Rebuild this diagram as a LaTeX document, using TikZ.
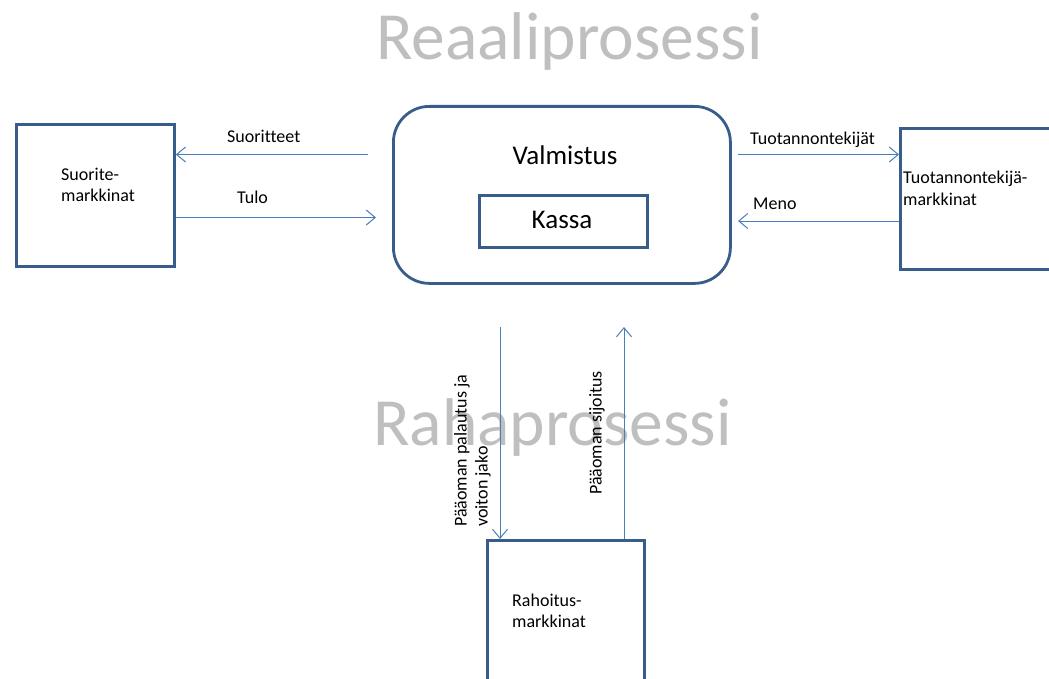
\documentclass[tikz,border=0pt]{standalone}
\usepackage{fontspec}
\setmainfont{Carlito}[Ligatures=NoCommon]
\usetikzlibrary{arrows.meta}
\definecolor{boxc}{HTML}{385D8A}
\definecolor{arrc}{HTML}{4A7EBB}
\definecolor{titc}{HTML}{BFBFBF}
\tikzset{
  market/.style={draw=boxc, line width=2.8pt, rectangle, inner sep=0pt, anchor=north west},
  flow/.style={draw=arrc, line width=1pt, -{Straight Barb[length=9pt,width=15pt,line width=1pt]}},
  lbl/.style={font=\fontsize{18}{21}\selectfont, inner sep=0pt, align=left},
  big/.style={font=\fontsize{67.5}{70}\selectfont, text=titc, inner sep=0pt, anchor=base west}
}
\begin{document}
\begin{tikzpicture}[x=1pt,y=-1pt]
\useasboundingbox (0,0) rectangle (1049,679);
\clip (0,0) rectangle (1049,679);
% titles
\node[big] (t1) at (376,60) {Reaaliprosessi};
\node[big] (t2) at (373,445) {Rahaprosessi};
% boxes
\node[market, minimum width=158pt, minimum height=142pt] (suor) at (15,123) {};
\node[market, minimum width=170pt, minimum height=141pt] (tuot) at (899,127) {};
\node[market, minimum width=157pt, minimum height=160pt] (raho) at (486,539) {};
\node[draw=boxc, line width=2.8pt, rounded corners=36pt, inner sep=0pt, anchor=north west,
      minimum width=337pt, minimum height=177pt] (valm) at (392,105) {};
\node[draw=boxc, line width=2.8pt, inner sep=0pt, anchor=north west,
      minimum width=168pt, minimum height=52pt] (kassa) at (478,194) {};
% texts in boxes
\node[lbl, anchor=base west] (suort) at (61,202) {Suorite-\\markkinat};
\node[lbl, anchor=base west] (tuott) at (903,205) {Tuotannontekijä-\\markkinat};
\node[lbl, anchor=base west] (rahot) at (512,627) {Rahoitus-\\markkinat};
\node[font=\fontsize{27}{30}\selectfont, inner sep=0pt, anchor=base] (valmt) at (565,165) {Valmistus};
\node[font=\fontsize{27}{30}\selectfont, inner sep=0pt, anchor=base] (kassat) at (562,229) {Kassa};
% flows
\coordinate (a1) at (368,154.5);
\coordinate (a2) at (376,217.5);
\coordinate (a3) at (738,154.5);
\coordinate (a4) at (738,221);
\coordinate (a5) at (500,327);
\coordinate (a6) at (624,327);
\draw[flow] (a1) -- (suor.east |- a1);
\draw[flow] (suor.east |- a2) -- (a2);
\draw[flow] (a3) -- (tuot.west |- a3);
\draw[flow] (tuot.west |- a4) -- (a4);
\draw[flow] (a5) -- (raho.north -| a5);
\draw[flow] (raho.north -| a6) -- (a6);
% flow labels
\node[lbl, anchor=base west] (l1) at (227,143) {Suoritteet};
\node[lbl, anchor=base west] (l2) at (237,204) {Tulo};
\node[lbl, anchor=base west] (l3) at (750,145) {Tuotannontekijät};
\node[lbl, anchor=base west] (l4) at (753,210) {Meno};
\node[lbl, rotate=90, anchor=north west] (l5) at (454,527) {Pääoman palautus ja\\voiton jako};
\node[lbl, rotate=90, anchor=north west] (l6) at (589,495) {Pääoman sijoitus};
\end{tikzpicture}
\end{document}
